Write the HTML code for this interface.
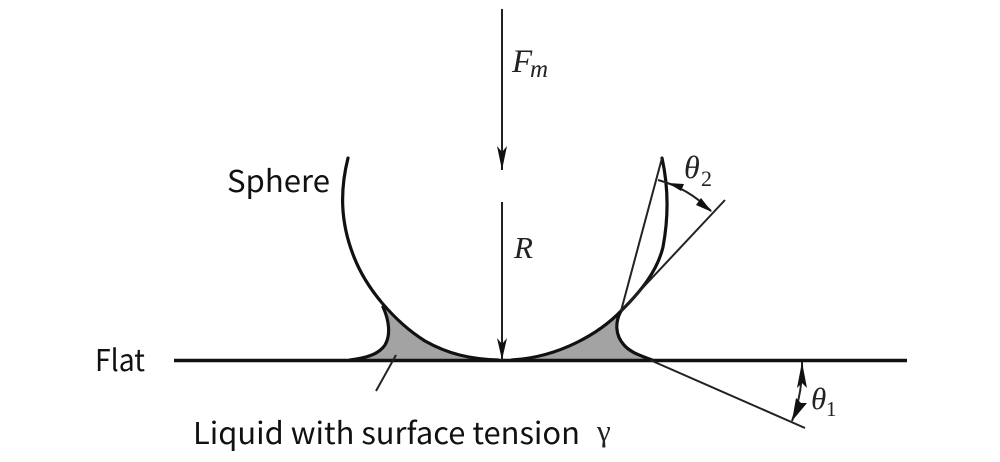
<!DOCTYPE html>
<html>
<head>
<meta charset="utf-8">
<style>
html,body{margin:0;padding:0;background:#fff;}
svg{display:block;}
.s{font-family:"Noto Sans CJK SC","Liberation Sans",sans-serif;fill:#111;}
.t{font-family:"Liberation Serif",serif;font-style:italic;fill:#222;}
.n{font-family:"Liberation Serif",serif;fill:#222;}
</style>
</head>
<body>
<svg width="1000" height="462" viewBox="0 0 1000 462" xmlns="http://www.w3.org/2000/svg">
<!-- liquid fill -->
<path d="M350 360 C372 358 388 350 389 331 C389 322 386 314 383 307 C410 338 448 358 490 360 Z" fill="#a3a3a3"/>
<path d="M512 360 C555 358 595 340 621 311 C616 322 616 333 622 342 C628 351 640 355 652 360 Z" fill="#a3a3a3"/>
<!-- flat -->
<line x1="174" y1="360.5" x2="907" y2="360.5" stroke="#111" stroke-width="3.4"/>
<!-- sphere -->
<g fill="none" stroke="#111" stroke-width="3.2" stroke-linecap="round">
<path d="M348 158 C340 190 340 222 354 257 C367 290 395 322 425 341 C448 354 470 359 498 360"/>
<path d="M383 307 C389 320 391 335 385 345 C378 355 365 358 350 360"/>
<path d="M662 158 C668 185 669 215 663 247 C657 272 640 292 622 310 C600 333 560 357 512 360"/>
<path d="M621 311 C615 322 615 335 624 345 C631 353 642 356 652 360"/>
</g>
<!-- thin lines -->
<g fill="none" stroke="#222" stroke-width="2">
<line x1="502" y1="9" x2="502" y2="170"/>
<line x1="502" y1="202" x2="502" y2="360"/>
<line x1="662" y1="158" x2="621" y2="311"/>
<line x1="621" y1="311" x2="725" y2="200"/>
<line x1="650" y1="360" x2="805" y2="428"/>
<line x1="396" y1="355" x2="376" y2="391"/>
<path d="M658 180 Q688 188 711 211"/>
<path d="M802 362 Q803 392 792 421"/>
</g>
<!-- arrowheads -->
<g fill="#111">
<polygon points="497,146 502,152 507,146 502,170"/>
<polygon points="497,338 502,344 507,338 502,360"/>
<polygon points="668,183 684,184 681,191"/>
<polygon points="712,212 696,205 701,198"/>
<polygon points="802,362 807,388 802,383 797,388"/>
<polygon points="792,421 796,398 801,403 807,403"/>
</g>
<!-- labels -->
<text class="s" x="227" y="192" font-size="30" textLength="103" lengthAdjust="spacingAndGlyphs">Sphere</text>
<text class="s" x="95" y="371" font-size="30" textLength="50" lengthAdjust="spacingAndGlyphs">Flat</text>
<text class="s" x="193" y="444" font-size="30" textLength="387" lengthAdjust="spacingAndGlyphs">Liquid with surface tension</text>
<text class="n" x="597" y="441" font-size="31">γ</text>
<text class="t" x="512" y="72" font-size="33">F</text>
<text class="t" x="530" y="77" font-size="25">m</text>
<text class="t" x="514" y="258" font-size="31">R</text>
<text class="t" x="684" y="178" font-size="32">θ</text>
<text class="n" x="701" y="186" font-size="22">2</text>
<text class="t" x="811" y="409" font-size="31">θ</text>
<text class="n" x="826" y="416" font-size="21">1</text>
</svg>
</body>
</html>
